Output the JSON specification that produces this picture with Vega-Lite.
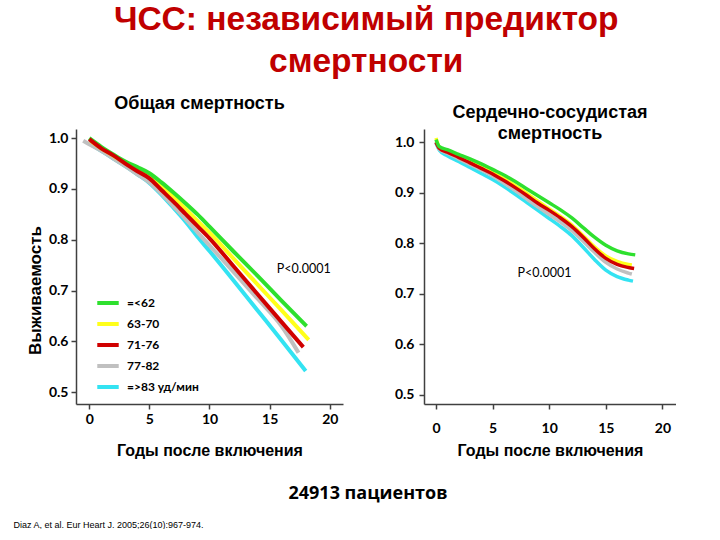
{
  "$schema": "https://vega.github.io/schema/vega-lite/v6.json",
  "background": "white",
  "padding": {"left": 13, "top": 2, "right": 0, "bottom": 0},
  "config": {
    "view": {"stroke": null},
    "axis": {"grid": false, "domainColor": "#404040", "domainWidth": 1.5, "tickColor": "#404040", "tickWidth": 1.5, "tickSize": 5, "labelFont": "Lato", "labelFontWeight": "bold", "labelFontSize": 14, "labelColor": "#000", "titleFont": "Liberation Sans", "titleFontWeight": "bold", "titleFontSize": 16, "titleColor": "#000"},
    "title": {"font": "Liberation Sans", "fontWeight": "bold", "color": "#000"}
  },
  "datasets": {
    "left": [
      {"g": "=>83 уд/мин", "x": 0, "y": 0.99}, {"g": "=>83 уд/мин", "x": 1, "y": 0.975}, {"g": "=>83 уд/мин", "x": 2, "y": 0.96}, {"g": "=>83 уд/мин", "x": 3, "y": 0.945}, {"g": "=>83 уд/мин", "x": 4, "y": 0.929}, {"g": "=>83 уд/мин", "x": 5, "y": 0.912}, {"g": "=>83 уд/мин", "x": 6, "y": 0.889}, {"g": "=>83 уд/мин", "x": 7, "y": 0.863}, {"g": "=>83 уд/мин", "x": 8, "y": 0.836}, {"g": "=>83 уд/мин", "x": 9, "y": 0.806}, {"g": "=>83 уд/мин", "x": 10, "y": 0.778}, {"g": "=>83 уд/мин", "x": 12, "y": 0.72}, {"g": "=>83 уд/мин", "x": 14, "y": 0.661}, {"g": "=>83 уд/мин", "x": 16, "y": 0.602}, {"g": "=>83 уд/мин", "x": 18.0, "y": 0.542},
      {"g": "77-82", "x": -0.5, "y": 0.995}, {"g": "77-82", "x": 0, "y": 0.988}, {"g": "77-82", "x": 1, "y": 0.975}, {"g": "77-82", "x": 2, "y": 0.96}, {"g": "77-82", "x": 3, "y": 0.945}, {"g": "77-82", "x": 4, "y": 0.929}, {"g": "77-82", "x": 5, "y": 0.913}, {"g": "77-82", "x": 6, "y": 0.891}, {"g": "77-82", "x": 7, "y": 0.866}, {"g": "77-82", "x": 8, "y": 0.841}, {"g": "77-82", "x": 9, "y": 0.815}, {"g": "77-82", "x": 10, "y": 0.789}, {"g": "77-82", "x": 12, "y": 0.737}, {"g": "77-82", "x": 14, "y": 0.684}, {"g": "77-82", "x": 16, "y": 0.63}, {"g": "77-82", "x": 17.4, "y": 0.578},
      {"g": "63-70", "x": 0.1, "y": 0.995}, {"g": "63-70", "x": 1, "y": 0.98}, {"g": "63-70", "x": 2, "y": 0.966}, {"g": "63-70", "x": 3, "y": 0.951}, {"g": "63-70", "x": 4, "y": 0.938}, {"g": "63-70", "x": 5, "y": 0.926}, {"g": "63-70", "x": 6, "y": 0.906}, {"g": "63-70", "x": 7, "y": 0.884}, {"g": "63-70", "x": 8, "y": 0.861}, {"g": "63-70", "x": 9, "y": 0.837}, {"g": "63-70", "x": 10, "y": 0.814}, {"g": "63-70", "x": 12, "y": 0.763}, {"g": "63-70", "x": 14, "y": 0.712}, {"g": "63-70", "x": 16, "y": 0.661}, {"g": "63-70", "x": 18.25, "y": 0.603},
      {"g": "=<62", "x": 0, "y": 1.0}, {"g": "=<62", "x": 1, "y": 0.983}, {"g": "=<62", "x": 2, "y": 0.968}, {"g": "=<62", "x": 3, "y": 0.954}, {"g": "=<62", "x": 4, "y": 0.943}, {"g": "=<62", "x": 5, "y": 0.931}, {"g": "=<62", "x": 6, "y": 0.913}, {"g": "=<62", "x": 7, "y": 0.893}, {"g": "=<62", "x": 8, "y": 0.872}, {"g": "=<62", "x": 9, "y": 0.85}, {"g": "=<62", "x": 10, "y": 0.826}, {"g": "=<62", "x": 12, "y": 0.777}, {"g": "=<62", "x": 14, "y": 0.729}, {"g": "=<62", "x": 16, "y": 0.68}, {"g": "=<62", "x": 18.07, "y": 0.63},
      {"g": "71-76", "x": 0, "y": 0.998}, {"g": "71-76", "x": 1, "y": 0.98}, {"g": "71-76", "x": 2, "y": 0.966}, {"g": "71-76", "x": 3, "y": 0.95}, {"g": "71-76", "x": 4, "y": 0.935}, {"g": "71-76", "x": 5, "y": 0.921}, {"g": "71-76", "x": 6, "y": 0.898}, {"g": "71-76", "x": 7, "y": 0.875}, {"g": "71-76", "x": 8, "y": 0.851}, {"g": "71-76", "x": 9, "y": 0.827}, {"g": "71-76", "x": 10, "y": 0.803}, {"g": "71-76", "x": 12, "y": 0.748}, {"g": "71-76", "x": 14, "y": 0.693}, {"g": "71-76", "x": 16, "y": 0.638}, {"g": "71-76", "x": 17.8, "y": 0.589}
    ],
    "right": [
      {"g": "=>83 уд/мин", "x": 0, "y": 0.998}, {"g": "=>83 уд/мин", "x": 0.3, "y": 0.984}, {"g": "=>83 уд/мин", "x": 1, "y": 0.973}, {"g": "=>83 уд/мин", "x": 2, "y": 0.962}, {"g": "=>83 уд/мин", "x": 3, "y": 0.95}, {"g": "=>83 уд/мин", "x": 4, "y": 0.938}, {"g": "=>83 уд/мин", "x": 5, "y": 0.926}, {"g": "=>83 уд/мин", "x": 6, "y": 0.912}, {"g": "=>83 уд/мин", "x": 7, "y": 0.897}, {"g": "=>83 уд/мин", "x": 8, "y": 0.881}, {"g": "=>83 уд/мин", "x": 9, "y": 0.865}, {"g": "=>83 уд/мин", "x": 10, "y": 0.849}, {"g": "=>83 уд/мин", "x": 11, "y": 0.833}, {"g": "=>83 уд/мин", "x": 12, "y": 0.815}, {"g": "=>83 уд/мин", "x": 13, "y": 0.792}, {"g": "=>83 уд/мин", "x": 14, "y": 0.768}, {"g": "=>83 уд/мин", "x": 15, "y": 0.747}, {"g": "=>83 уд/мин", "x": 16, "y": 0.734}, {"g": "=>83 уд/мин", "x": 17, "y": 0.727}, {"g": "=>83 уд/мин", "x": 17.4, "y": 0.725},
      {"g": "77-82", "x": 0, "y": 1.0}, {"g": "77-82", "x": 0.3, "y": 0.986}, {"g": "77-82", "x": 1, "y": 0.978}, {"g": "77-82", "x": 2, "y": 0.967}, {"g": "77-82", "x": 3, "y": 0.956}, {"g": "77-82", "x": 4, "y": 0.945}, {"g": "77-82", "x": 5, "y": 0.933}, {"g": "77-82", "x": 6, "y": 0.919}, {"g": "77-82", "x": 7, "y": 0.904}, {"g": "77-82", "x": 8, "y": 0.888}, {"g": "77-82", "x": 9, "y": 0.872}, {"g": "77-82", "x": 10, "y": 0.857}, {"g": "77-82", "x": 11, "y": 0.842}, {"g": "77-82", "x": 12, "y": 0.825}, {"g": "77-82", "x": 13, "y": 0.804}, {"g": "77-82", "x": 14, "y": 0.782}, {"g": "77-82", "x": 15, "y": 0.762}, {"g": "77-82", "x": 16, "y": 0.749}, {"g": "77-82", "x": 17, "y": 0.741}, {"g": "77-82", "x": 17.3, "y": 0.739},
      {"g": "63-70", "x": 0, "y": 1.008}, {"g": "63-70", "x": 0.3, "y": 0.99}, {"g": "63-70", "x": 1, "y": 0.982}, {"g": "63-70", "x": 2, "y": 0.972}, {"g": "63-70", "x": 3, "y": 0.962}, {"g": "63-70", "x": 4, "y": 0.951}, {"g": "63-70", "x": 5, "y": 0.94}, {"g": "63-70", "x": 6, "y": 0.928}, {"g": "63-70", "x": 7, "y": 0.914}, {"g": "63-70", "x": 8, "y": 0.899}, {"g": "63-70", "x": 9, "y": 0.883}, {"g": "63-70", "x": 10, "y": 0.868}, {"g": "63-70", "x": 11, "y": 0.853}, {"g": "63-70", "x": 12, "y": 0.836}, {"g": "63-70", "x": 13, "y": 0.815}, {"g": "63-70", "x": 14, "y": 0.793}, {"g": "63-70", "x": 15, "y": 0.775}, {"g": "63-70", "x": 16, "y": 0.764}, {"g": "63-70", "x": 17, "y": 0.758}, {"g": "63-70", "x": 17.3, "y": 0.757},
      {"g": "71-76", "x": 0, "y": 1.0}, {"g": "71-76", "x": 0.3, "y": 0.988}, {"g": "71-76", "x": 1, "y": 0.98}, {"g": "71-76", "x": 2, "y": 0.97}, {"g": "71-76", "x": 3, "y": 0.959}, {"g": "71-76", "x": 4, "y": 0.948}, {"g": "71-76", "x": 5, "y": 0.937}, {"g": "71-76", "x": 6, "y": 0.924}, {"g": "71-76", "x": 7, "y": 0.91}, {"g": "71-76", "x": 8, "y": 0.895}, {"g": "71-76", "x": 9, "y": 0.879}, {"g": "71-76", "x": 10, "y": 0.865}, {"g": "71-76", "x": 11, "y": 0.85}, {"g": "71-76", "x": 12, "y": 0.833}, {"g": "71-76", "x": 13, "y": 0.812}, {"g": "71-76", "x": 14, "y": 0.789}, {"g": "71-76", "x": 15, "y": 0.77}, {"g": "71-76", "x": 16, "y": 0.758}, {"g": "71-76", "x": 17, "y": 0.752}, {"g": "71-76", "x": 17.5, "y": 0.75},
      {"g": "=<62", "x": 0, "y": 1.005}, {"g": "=<62", "x": 0.3, "y": 0.991}, {"g": "=<62", "x": 1, "y": 0.985}, {"g": "=<62", "x": 2, "y": 0.976}, {"g": "=<62", "x": 3, "y": 0.967}, {"g": "=<62", "x": 4, "y": 0.957}, {"g": "=<62", "x": 5, "y": 0.946}, {"g": "=<62", "x": 6, "y": 0.935}, {"g": "=<62", "x": 7, "y": 0.922}, {"g": "=<62", "x": 8, "y": 0.908}, {"g": "=<62", "x": 9, "y": 0.894}, {"g": "=<62", "x": 10, "y": 0.88}, {"g": "=<62", "x": 11, "y": 0.866}, {"g": "=<62", "x": 12, "y": 0.85}, {"g": "=<62", "x": 13, "y": 0.831}, {"g": "=<62", "x": 14, "y": 0.812}, {"g": "=<62", "x": 15, "y": 0.796}, {"g": "=<62", "x": 16, "y": 0.785}, {"g": "=<62", "x": 17, "y": 0.779}, {"g": "=<62", "x": 17.6, "y": 0.777}
    ],
    "noteL": [{"label": "P<0.0001", "x": 15.6, "y": 0.742}],
    "noteR": [{"label": "P<0.0001", "x": 7.2, "y": 0.741}]
  },
  "vconcat": [
    {
      "title": {"text": ["ЧСС: независимый предиктор", "смертности"], "anchor": "middle", "fontSize": 33.5, "lineHeight": 42, "color": "#C00000", "offset": 16, "dx": 15},
      "spacing": 51,
      "resolve": {"scale": {"color": "independent"}, "legend": {"color": "independent"}},
      "hconcat": [
        {
          "width": 267, "height": 275,
          "title": {"text": "Общая смертность", "fontSize": 18, "offset": 16, "dx": -10},
          "layer": [
            {
              "data": {"name": "left"},
              "mark": {"type": "line", "strokeWidth": 4, "interpolate": "monotone"},
              "encoding": {
                "x": {"field": "x", "type": "quantitative", "scale": {"domain": [-1.1, 21.1], "nice": false, "zero": false}, "axis": {"values": [0, 5, 10, 15, 20], "title": "Годы после включения", "labelPadding": 3, "titlePadding": 16}},
                "y": {"field": "y", "type": "quantitative", "scale": {"domain": [0.477, 1.018], "nice": false, "zero": false}, "axis": {"values": [0.5, 0.6, 0.7, 0.8, 0.9, 1.0], "format": ".1f", "title": "Выживаемость", "titleFontSize": 17, "titleY": 161, "labelPadding": 3, "titlePadding": 4}},
                "color": {"field": "g", "type": "nominal",
                  "scale": {"domain": ["=<62", "63-70", "71-76", "77-82", "=>83 уд/мин"], "range": ["#2EE02E", "#FFFF1A", "#D00000", "#C0C0C0", "#33E3F2"]},
                  "legend": {"orient": "none", "legendX": 19, "legendY": 161, "title": null, "symbolType": "stroke", "symbolStrokeWidth": 4, "symbolSize": 460, "labelFont": "Lato", "labelFontWeight": "bold", "labelFontSize": 12, "labelOffset": 6, "rowPadding": 0, "padding": 0}}
              }
            },
            {
              "data": {"name": "noteL"},
              "mark": {"type": "text", "align": "left", "baseline": "middle", "font": "Lato", "fontSize": 12.5, "color": "#000"},
              "encoding": {"x": {"field": "x", "type": "quantitative"}, "y": {"field": "y", "type": "quantitative"}, "text": {"field": "label"}}
            }
          ]
        },
        {
          "width": 252, "height": 275,
          "title": {"text": ["Сердечно-сосудистая", "смертность"], "fontSize": 18, "lineHeight": 21, "offset": -14},
          "layer": [
            {
              "data": {"name": "right"},
              "mark": {"type": "line", "strokeWidth": 3.5, "interpolate": "monotone"},
              "encoding": {
                "x": {"field": "x", "type": "quantitative", "scale": {"domain": [-1.06, 21.2], "nice": false, "zero": false}, "axis": {"values": [0, 5, 10, 15, 20], "title": "Годы после включения", "labelPadding": 12, "titlePadding": 7}},
                "y": {"field": "y", "type": "quantitative", "scale": {"domain": [0.482, 1.026], "nice": false, "zero": false}, "axis": {"values": [0.5, 0.6, 0.7, 0.8, 0.9, 1.0], "format": ".1f", "title": null, "labelPadding": 5}},
                "color": {"field": "g", "type": "nominal",
                  "scale": {"domain": ["=<62", "63-70", "71-76", "77-82", "=>83 уд/мин"], "range": ["#2EE02E", "#FFFF1A", "#D00000", "#C0C0C0", "#33E3F2"]},
                  "legend": null}
              }
            },
            {
              "data": {"name": "noteR"},
              "mark": {"type": "text", "align": "left", "baseline": "middle", "font": "Lato", "fontSize": 12.5, "color": "#000"},
              "encoding": {"x": {"field": "x", "type": "quantitative"}, "y": {"field": "y", "type": "quantitative"}, "text": {"field": "label"}}
            }
          ]
        }
      ]
    },
    {
      "width": 584, "height": 1,
      "data": {"values": []},
      "mark": "text",
      "encoding": {
        "x": {"field": "x", "type": "quantitative", "scale": {"domain": [0, 1]},
          "axis": {"domain": false, "ticks": false, "labels": false, "grid": false, "title": "Diaz A, et al. Eur Heart J. 2005;26(10):967-974.", "titleAlign": "left", "titleAnchor": "start", "titleBaseline": "middle", "titleX": -63, "titleY": 20, "titleFont": "Liberation Sans", "titleFontSize": 9, "titleFontWeight": "normal"}}
      },
      "title": {"text": "24913 пациентов", "anchor": "middle", "font": "Open Sans", "fontSize": 18, "fontWeight": "bold", "offset": 0}
    }
  ],
  "spacing": 27
}
